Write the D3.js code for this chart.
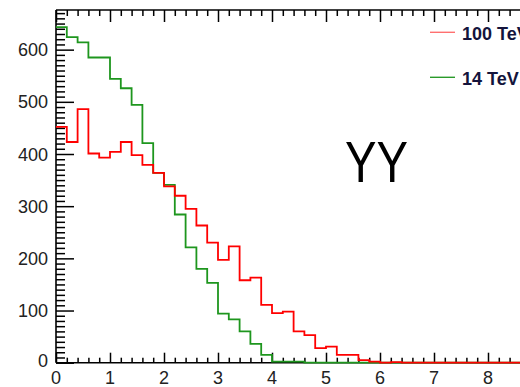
<!DOCTYPE html>
<html>
<head>
<meta charset="utf-8">
<script src="https://cdn.jsdelivr.net/npm/d3@7"></script>
<style>
  body { margin: 0; background: #fff; }
  svg { display: block; }
</style>
</head>
<body>
<script>
// Histogram binning (0.2 wide bins over 0..10)
const xMin = 0, xMax = 10, nBins = 50;

// Bin contents, 100 TeV
const counts100 = [
  452, 423, 486, 401, 393, 404, 423, 398, 379, 364,
  338, 320, 295, 263, 230, 197, 223, 158, 163, 111,
   95,  98,  60,  53,  28,  31,  15,  15,   5,   2,
    0,   1,   0,   0,   0,   0,   0,   0,   0,   0,
    0,   0,   0,   0,   0,   0,   0,   0,   0,   0
];

// Bin contents, 14 TeV
const counts14 = [
  643, 624, 614, 585, 585, 544, 526, 494, 421, 364,
  341, 284, 221, 180, 153,  94,  83,  60,  36,  15,
    2,   2,   2,   0,   0,   0,   0,   0,   0,   0,
    0,   0,   0,   0,   0,   0,   0,   0,   0,   0,
    0,   0,   0,   0,   0,   0,   0,   0,   0,   0
];

const xTickLabels = [0, 1, 2, 3, 4, 5, 6, 7, 8];
const yTickLabels = [0, 100, 200, 300, 400, 500, 600];
const legendLabels = ["100 TeV", "14 TeV"];
const channelLabel = "YY";

const W = 520, H = 387;
const padLeft = 56, padTop = 10, baseY = 362.7;
const yMax = 676;

const x = d3.scaleLinear().domain([xMin, xMax]).range([padLeft, padLeft + 54 * (xMax - xMin)]);
const y = d3.scaleLinear().domain([0, yMax]).range([baseY, padTop]);

const svg = d3.select("body").append("svg")
  .attr("width", W).attr("height", H)
  .style("font-family", "'Liberation Sans', Arial, Helvetica, sans-serif");

svg.append("rect").attr("width", W).attr("height", H).attr("fill", "#fff");

const binWidth = (xMax - xMin) / nBins;
function stepPoints(counts) {
  const pts = counts.map((c, i) => [xMin + i * binWidth, c]);
  pts.push([xMax, counts[counts.length - 1]]);
  return pts;
}
const line = d3.line().x(d => x(d[0])).y(d => y(d[1])).curve(d3.curveStepAfter);

// frame (left and top edges; bottom axis line)
const frame = svg.append("g").attr("stroke", "#000").attr("stroke-width", 1.6).attr("fill", "none");
frame.append("line").attr("x1", padLeft).attr("x2", padLeft).attr("y1", padTop).attr("y2", baseY);
frame.append("line").attr("x1", padLeft).attr("x2", W + 10).attr("y1", padTop).attr("y2", padTop);
frame.append("line").attr("x1", padLeft).attr("x2", W + 10).attr("y1", baseY).attr("y2", baseY);

// tick marks
const xMajor = d3.range(xMin, xMax + 0.001, 1);
const xMinor = d3.range(xMin, xMax + 0.001, 0.2).filter(v => Math.abs(v - Math.round(v)) > 1e-6);
const yMajor = d3.range(0, yMax, 100);
const yMinor = d3.range(0, yMax, 10).filter(v => v % 100 !== 0);

function tickAxis(axis, transform) {
  const g = svg.append("g").attr("transform", transform).call(axis.tickFormat(""));
  g.select(".domain").remove();
  g.selectAll(".tick line").attr("stroke", "#000").attr("stroke-width", 1.5);
  return g;
}
tickAxis(d3.axisTop(x).tickValues(xMajor).tickSize(10), `translate(0,${baseY})`);
tickAxis(d3.axisTop(x).tickValues(xMinor).tickSize(5), `translate(0,${baseY})`);
tickAxis(d3.axisBottom(x).tickValues(xMajor).tickSize(12), `translate(0,${padTop})`);
tickAxis(d3.axisBottom(x).tickValues(xMinor).tickSize(6), `translate(0,${padTop})`);
tickAxis(d3.axisRight(y).tickValues(yMajor).tickSize(18), `translate(${padLeft},0)`);
tickAxis(d3.axisRight(y).tickValues(yMinor).tickSize(9), `translate(${padLeft},0)`);

// tick labels
svg.append("g").selectAll("text").data(xTickLabels).join("text")
  .attr("x", d => x(d)).attr("y", 384)
  .attr("text-anchor", "middle").attr("font-size", 18).attr("fill", "#222")
  .text(d => d);
svg.append("g").selectAll("text").data(yTickLabels).join("text")
  .attr("x", 48).attr("y", d => y(d) + 6.5 - (d === 0 ? 2 : 0))
  .attr("text-anchor", "end").attr("font-size", 18).attr("fill", "#222")
  .text(d => d);

// histograms
const green = "#1e961e", red = "#ff0000";
svg.append("path").attr("d", line(stepPoints(counts14)))
  .attr("fill", "none").attr("stroke", green).attr("stroke-width", 1.8);
svg.append("path").attr("d", line(stepPoints(counts100)))
  .attr("fill", "none").attr("stroke", red).attr("stroke-width", 1.8);

// legend
const legend = svg.append("g");
[[legendLabels[0], "#ff7070", 32.3, 40], [legendLabels[1], "#2a9a2a", 77.3, 85]].forEach(([t, c, ly, ty]) => {
  legend.append("line").attr("x1", 430).attr("x2", 455).attr("y1", ly).attr("y2", ly)
    .attr("stroke", c).attr("stroke-width", 1.4);
  legend.append("text").attr("x", 462).attr("y", ty)
    .attr("font-size", 18).attr("font-weight", "bold").attr("fill", "#14143c").text(t);
});

// channel label
svg.append("text").attr("x", 345).attr("y", 181.7)
  .attr("font-size", 58).attr("fill", "#000")
  .attr("textLength", 63).attr("lengthAdjust", "spacingAndGlyphs")
  .text(channelLabel);
</script>
</body>
</html>
